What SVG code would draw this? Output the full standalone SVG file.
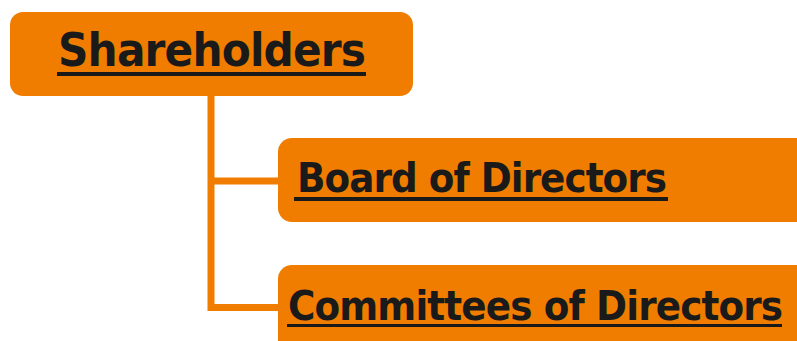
<svg xmlns="http://www.w3.org/2000/svg" width="797" height="341" viewBox="0 0 797 341">
<style>
.box{fill:#F07D00}
.lbl{font-family:"DejaVu Sans Condensed","DejaVu Sans","Liberation Sans",sans-serif;font-stretch:condensed;font-weight:bold;fill:#1a1a1a}
.ul{fill:#1a1a1a}
.conn{stroke:#F07D00;stroke-width:7;fill:none}
</style>
<rect width="797" height="341" fill="#fff"/>
<g id="connectors">
<path class="conn" d="M211 96 V307.5 H280 M211 181 H280"/>
</g>
<g id="shareholders">
<rect class="box" x="10" y="12" width="403" height="84" rx="13"/>
<text class="lbl" x="58" y="66" font-size="47" textLength="308" lengthAdjust="spacing">Shareholders</text>
<rect class="ul" x="57" y="72" width="309" height="4"/>
</g>
<g id="board">
<rect class="box" x="278" y="138" width="560" height="84" rx="14"/>
<text class="lbl" x="297" y="192" font-size="41.5" textLength="370" lengthAdjust="spacing">Board of Directors</text>
<rect class="ul" x="294" y="197" width="374" height="4"/>
</g>
<g id="committees">
<rect class="box" x="278" y="265" width="560" height="100" rx="14"/>
<text class="lbl" x="288" y="320" font-size="41.5" textLength="495" lengthAdjust="spacing">Committees of Directors</text>
<rect class="ul" x="287" y="324" width="495" height="3"/>
</g>
</svg>
